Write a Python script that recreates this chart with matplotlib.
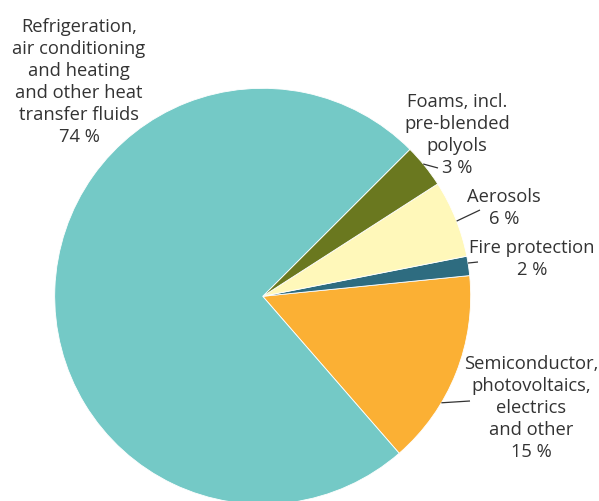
import numpy as np
import matplotlib
matplotlib.use("Agg")
import matplotlib.pyplot as plt

plt.rcParams['font.family'] = ['Open Sans', 'DejaVu Sans']

# Shares of use, in per cent (counter-clockwise from the lower right)
categories = [
    "Semiconductor,\nphotovoltaics,\nelectrics\nand other",
    "Fire protection",
    "Aerosols",
    "Foams, incl.\npre-blended\npolyols",
    "Refrigeration,\nair conditioning\nand heating\nand other heat\ntransfer fluids",
]
shares = [15.2, 1.5, 6.0, 3.4, 73.9]
colors = ["#FBB034", "#2E6C80", "#FFF8BA", "#6A781F", "#74C9C6"]

W, H = 599, 502
fig = plt.figure(figsize=(W / 100, H / 100), dpi=100)
ax = fig.add_axes([0, 0, 1, 1])

cx, cy, R = 262.7, H - 297.3, 208.0
wedges, _ = ax.pie(shares, colors=colors, startangle=-49.0, counterclock=True,
                   center=(cx, cy), radius=R, frame=True,
                   wedgeprops=dict(edgecolor="white", linewidth=0.6))
ax.set_xlim(0, W)
ax.set_ylim(0, H)
ax.set_aspect("equal")
ax.axis("off")

txt_color = "#333333"
# label placement: text centre (px from top-left), leader angle on rim, leader end
layout = [
    dict(xy=(531, 408), ang=-30.8, end=(470, 402)),
    dict(xy=(532, 259), ang=9.2, end=(478, 263)),
    dict(xy=(504, 208), ang=21.2, end=(480, 211)),
    dict(xy=(457, 135), ang=39.5, end=(438, 169)),
    dict(xy=(79, 82), ang=None, end=None),
]

for name, val, lay in zip(categories, shares, layout):
    label = f"{name}\n{val:.0f} %"
    x, y = lay["xy"]
    ax.text(x, H - y, label, ha="center", va="center", fontsize=13.2,
            color=txt_color, linespacing=1.29)
    if lay["ang"] is not None:
        a = np.deg2rad(lay["ang"])
        x0, y0 = cx + R * np.cos(a), cy + R * np.sin(a)
        ex, ey = lay["end"]
        ax.plot([x0, ex], [y0, H - ey], color="#333333", lw=0.9,
                solid_capstyle="butt")

fig.savefig("out.png", dpi=100)
